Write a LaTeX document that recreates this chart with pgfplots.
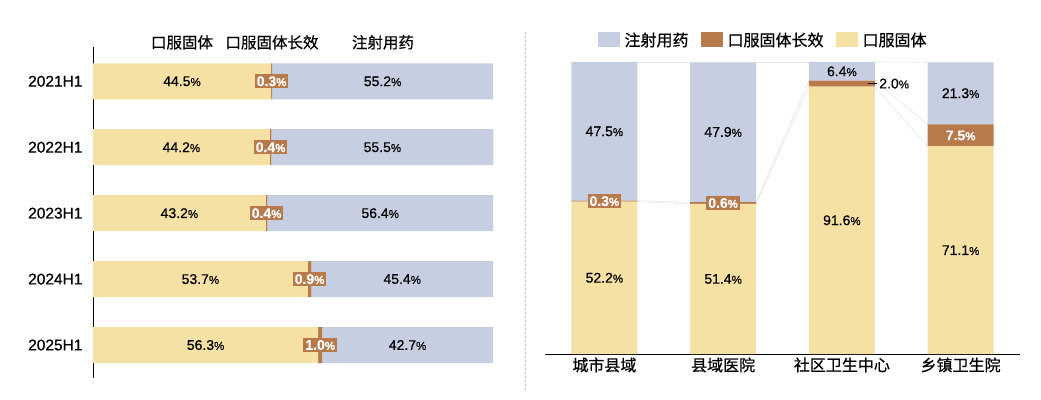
\documentclass[border=0pt]{standalone}
\usepackage{fontspec}
\setmainfont[FakeBold=0.6]{Liberation Sans}
\newfontfamily\cjk[FakeBold=0.6]{Noto Sans CJK SC}
\usepackage{pgfplots}
\pgfplotsset{compat=1.18}
\usepackage{pgfplotstable}
\definecolor{cyel}{RGB}{246,225,164}
\definecolor{cbrn}{RGB}{184,121,75}
\definecolor{cblu}{RGB}{197,207,225}
\newcommand{\pct}{{\fontsize{11.5}{11.5}\selectfont\%}}

% left chart: oral solid, oral solid long-acting, injection
\pgfplotstableread{
y a b c
0 44.5 0.3 55.2
1 44.2 0.4 55.5
2 43.2 0.4 56.4
3 53.7 0.9 45.4
4 56.3 1.0 42.7
}\lefttab
\pgfplotstableread{
x y v
22.25 0 44.5
72.4 0 55.2
22.1 1 44.2
72.35 1 55.5
21.6 2 43.2
71.8 2 56.4
26.85 3 53.7
77.3 3 45.4
28.15 4 56.3
78.65 4 42.7
}\leftdark
\pgfplotstableread{
x y v
44.65 0 0.3
44.4 1 0.4
43.4 2 0.4
54.15 3 0.9
56.8 4 1.0
}\leftbrown

% right chart
\pgfplotstableread{
x a b c
0 52.2 0.3 47.5
1 51.4 0.6 47.9
2 91.6 2.0 6.4
3 71.1 7.5 21.3
}\righttab
\pgfplotstableread{
x y v
0 26.1 52.2
0 76.25 47.5
1 25.7 51.4
1 76.05 47.9
2 45.8 91.6
2 96.8 6.4
3 35.55 71.1
3 89.3 21.3
}\rightdark
\pgfplotstableread{
x y v
0 52.35 0.3
1 51.7 0.6
3 74.85 7.5
}\rightbrown

\pgfplotsset{
  numlab/.style={
    nodes near coords={\pgfmathprintnumber[fixed,fixed zerofill,precision=1]{\pgfplotspointmeta}\pct},
    nodes near coords align={center},
    point meta=explicit,
    /pgf/number format/assume math mode=true,
  },
  sl/.style={gray!35, line width=0.6pt, dash pattern=on 1pt off 1pt, mark=none},
  leftgeom/.style={at={(93pt,21pt)}, anchor=south west, scale only axis,
    width=400pt, height=331pt, xmin=0, xmax=100, ymin=-0.52, ymax=4.5, y dir=reverse, clip=false},
  rightgeom/.style={at={(545pt,45pt)}, anchor=south west, scale only axis,
    width=475pt, height=292pt, xmin=-0.5, xmax=3.5, ymin=0, ymax=100, clip=false},
}

\begin{document}
\begin{tikzpicture}[x=1pt,y=1pt]
\useasboundingbox (0,0) rectangle (1041,399);
\draw[gray!45, dash pattern=on 2pt off 2pt, line width=0.7pt] (525,9) -- (525,369);

% ---------------- left chart -----------------
\begin{axis}[leftgeom,
  xbar stacked, bar width=36pt,
  axis x line=none, axis y line*=left,
  y axis line style={black, line width=1pt},
  ytick={0,1,2,3,4},
  yticklabels={2021H1,2022H1,2023H1,2024H1,2025H1},
  ytick style={draw=none},
  yticklabel style={font=\fontsize{15.5}{15.5}\selectfont, xshift=-7pt},
]
\addplot[fill=cyel, draw=none] table[x=a, y=y] {\lefttab};
\addplot[fill=cbrn, draw=none] table[x=b, y=y] {\lefttab};
\addplot[fill=cblu, draw=none] table[x=c, y=y] {\lefttab};
\end{axis}
\begin{axis}[leftgeom, hide axis]
\addplot[draw=none, mark=none, numlab,
  every node near coord/.append style={font=\fontsize{14}{14}\selectfont, text=black}]
  table[x=x, y=y, meta=v] {\leftdark};
\addplot[draw=none, mark=none, numlab,
  every node near coord/.append style={font=\bfseries\fontsize{14}{14}\selectfont, text=white, fill=cbrn, inner sep=2pt}]
  table[x=x, y=y, meta=v] {\leftbrown};
\node[font=\cjk\fontsize{15.5}{15.5}\selectfont] at (axis cs:22.25,-0.59) {口服固体};
\node[font=\cjk\fontsize{15.5}{15.5}\selectfont] at (axis cs:44.75,-0.59) {口服固体长效};
\node[font=\cjk\fontsize{15.5}{15.5}\selectfont] at (axis cs:72.5,-0.59) {注射用药};
\end{axis}

% ---------------- right chart -----------------
\begin{axis}[rightgeom, hide axis]
\addplot[sl] coordinates {(0.277,52.2) (0.723,51.4)};
\addplot[sl] coordinates {(0.277,52.5) (0.723,52.0)};
\addplot[sl] coordinates {(0.277,100) (0.723,100)};
\addplot[sl] coordinates {(1.277,51.4) (1.723,91.6)};
\addplot[sl] coordinates {(1.277,52.0) (1.723,93.6)};
\addplot[sl] coordinates {(1.277,100) (1.723,100)};
\addplot[sl] coordinates {(2.277,91.6) (2.723,71.1)};
\addplot[sl] coordinates {(2.277,93.6) (2.723,78.6)};
\addplot[sl] coordinates {(2.277,100) (2.723,99.9)};
\end{axis}
\begin{axis}[rightgeom,
  ybar stacked, bar width=66pt,
  axis y line=none, axis x line*=bottom,
  x axis line style={black, line width=1pt},
  xtick={0,1,2,3},
  xticklabels={城市县域,县域医院,社区卫生中心,乡镇卫生院},
  xtick style={draw=none},
  xticklabel style={font=\cjk\fontsize{16}{16}\selectfont},
  reverse legend,
  legend style={at={(0.459,1.075)}, anchor=center, draw=none, fill=none,
    legend columns=-1, font=\cjk\fontsize{16}{16}\selectfont,
    /tikz/every even column/.append style={column sep=10pt}},
  legend image code/.code={\fill[#1] (0pt,-7pt) rectangle (22pt,8pt);},
]
\addplot[fill=cyel, draw=none] table[x=x, y=a] {\righttab};
\addplot[fill=cbrn, draw=none] table[x=x, y=b] {\righttab};
\addplot[fill=cblu, draw=none] table[x=x, y=c] {\righttab};
\legend{\hspace{3pt}口服固体,\hspace{3pt}口服固体长效,\hspace{3pt}注射用药}
\end{axis}
\begin{axis}[rightgeom, hide axis]
\addplot[draw=none, mark=none, numlab,
  every node near coord/.append style={font=\fontsize{14}{14}\selectfont, text=black}]
  table[x=x, y=y, meta=v] {\rightdark};
\addplot[draw=none, mark=none, numlab,
  every node near coord/.append style={font=\bfseries\fontsize{14}{14}\selectfont, text=white, fill=cbrn, inner sep=2pt}]
  table[x=x, y=y, meta=v] {\rightbrown};
\addplot[draw=none, mark=none, point meta=explicit,
  nodes near coords={\rule[0.32em]{9pt}{0.8pt}\,\pgfmathprintnumber[fixed,fixed zerofill,precision=1,assume math mode=true]{\pgfplotspointmeta}\pct},
  nodes near coords align={west},
  every node near coord/.append style={font=\fontsize{14}{14}\selectfont, text=black, xshift=-7pt, inner sep=0pt}]
  coordinates {(2.277,92.6) [2.0]};
\end{axis}
\end{tikzpicture}
\end{document}
